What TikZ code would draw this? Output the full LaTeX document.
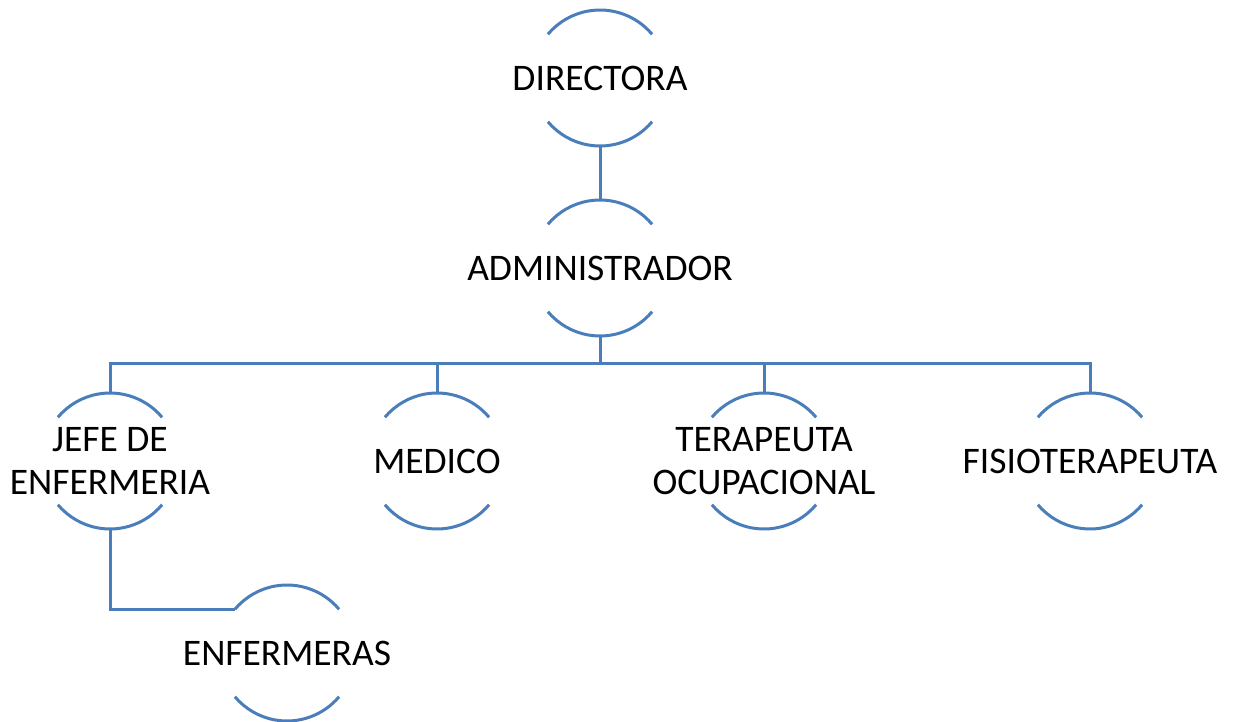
\documentclass[tikz,border=0pt]{standalone}
\usepackage{fontspec}
\setmainfont{Carlito}
\definecolor{lineblue}{RGB}{74,126,187}
\begin{document}
\begin{tikzpicture}[x=1pt,y=1pt,
  ring/.style={circle,draw=none,minimum size=136pt,inner sep=0pt,outer sep=0pt},
  lbl/.style={align=center,inner sep=0pt,font=\fontsize{37.5}{43}\selectfont,text=black},
  conn/.style={draw=lineblue,line width=3pt},
  arcline/.style={draw=lineblue,line width=3pt}]
\useasboundingbox (0,0) rectangle (1235,-722);
\newcommand\drawarcs[1]{%
  \draw[arcline] (#1.40) arc[start angle=40,end angle=140,radius=68pt];
  \draw[arcline] (#1.-40) arc[start angle=-40,end angle=-140,radius=68pt];}
% members
\node[ring] (d) at (600,-78) {};
\node[lbl] (dt) at (d) {DIRECTORA};
\node[ring] (a) at (600,-268) {};
\node[lbl] (at) at (a) {ADMINISTRADOR};
\node[ring] (j) at (110,-461) {};
\node[lbl] (jt) at (j) {JEFE DE\\ENFERMERIA};
\node[ring] (m) at (437,-461) {};
\node[lbl] (mt) at (m) {MEDICO};
\node[ring] (t) at (764,-461) {};
\node[lbl] (tt) at (t) {TERAPEUTA\\OCUPACIONAL};
\node[ring] (f) at (1090,-461) {};
\node[lbl] (ft) at (f) {FISIOTERAPEUTA};
\node[ring] (e) at (287,-653) {};
\node[lbl] (et) at (e) {ENFERMERAS};
\foreach \n in {d,a,j,m,t,f,e}{\drawarcs{\n}}
% connectors
\coordinate (bus) at (600,-363);
\draw[conn] (d.south) -- (a.north);
\draw[conn] (a.south) -- (bus);
\draw[conn] (j.north) |- (bus);
\draw[conn] (m.north) |- (bus);
\draw[conn] (t.north) |- (bus);
\draw[conn] (f.north) |- (bus);
\draw[conn] (j.south) |- (e.140);
\end{tikzpicture}
\end{document}
